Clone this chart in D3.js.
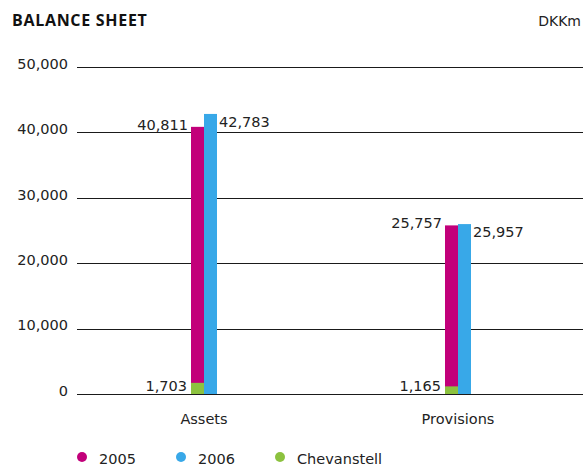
<!DOCTYPE html>
<html>
<head>
<meta charset="utf-8">
<script src="https://cdn.jsdelivr.net/npm/d3@7"></script>
<style>
  html, body { margin: 0; padding: 0; background: #fff; }
  svg { display: block; font-family: "DejaVu Sans", sans-serif; }
</style>
</head>
<body>
<svg id="chart" width="583" height="465"></svg>
<script>
// Balance sheet, DKKm
const categories = ["Assets", "Provisions"];
const values2005 = [40811, 25757];
const values2006 = [42783, 25957];
const valuesChevanstell = [1703, 1165];
const yTicks = [0, 10000, 20000, 30000, 40000, 50000];
const legendLabels = ["2005", "2006", "Chevanstell"];

const colors = { y2005: "#c2007a", y2006: "#38a8e8", chev: "#8cc23f" };
const textColor = "#222";

const svg = d3.select("#chart");
const W = 583;
const plotLeft = 77, plotRight = 585;

const y = d3.scaleLinear().domain([0, 50000]).range([394, 66.7]);
const x = d3.scalePoint().domain(categories).range([plotLeft, plotRight]).padding(0.5);
const barW = 13;
const fmt = d3.format(",");

// Title and unit
svg.append("text").attr("x", 12).attr("y", 26)
  .attr("font-family", "'Open Sans', sans-serif")
  .attr("font-size", 16).attr("font-weight", "bold").attr("letter-spacing", 0.7)
  .attr("fill", "#111")
  .text("BALANCE SHEET");
svg.append("text").attr("x", 581).attr("y", 26).attr("text-anchor", "end")
  .attr("font-size", 14).attr("fill", textColor).text("DKKm");

// Gridlines with tick labels
const yAxis = d3.axisLeft(y).tickValues(yTicks).tickFormat(fmt)
  .tickSize(-(W - plotLeft)).tickPadding(9);
const gAxis = svg.append("g").attr("transform", `translate(${plotLeft},0)`).call(yAxis);
gAxis.select(".domain").remove();
gAxis.selectAll(".tick line").attr("stroke", "#1a1a1a").attr("stroke-width", 1)
  .attr("shape-rendering", "crispEdges");
gAxis.selectAll(".tick text").attr("font-size", 14.5).attr("fill", textColor)
  .attr("font-family", "DejaVu Sans, sans-serif").attr("dy", "0.1em");

// Bars
const rows = categories.map((c, i) => ({
  cat: c, v2005: values2005[i], v2006: values2006[i], chev: valuesChevanstell[i]
}));

const g = svg.append("g");
g.selectAll("rect.b2005").data(rows).join("rect")
  .attr("x", d => x(d.cat) - barW).attr("width", barW)
  .attr("y", d => y(d.v2005)).attr("height", d => y(0) - y(d.v2005))
  .attr("fill", colors.y2005);
g.selectAll("rect.b2006").data(rows).join("rect")
  .attr("x", d => x(d.cat)).attr("width", barW)
  .attr("y", d => y(d.v2006)).attr("height", d => y(0) - y(d.v2006))
  .attr("fill", colors.y2006);
g.selectAll("rect.chev").data(rows).join("rect")
  .attr("x", d => x(d.cat) - barW).attr("width", barW)
  .attr("y", d => y(d.chev)).attr("height", d => y(0) - y(d.chev))
  .attr("fill", colors.chev);

// Zero line drawn over bar bottoms
svg.append("line").attr("x1", plotLeft).attr("x2", W).attr("y1", y(0)).attr("y2", y(0))
  .attr("stroke", "#1a1a1a").attr("shape-rendering", "crispEdges");

// Value labels
const lbl = svg.append("g").attr("font-size", 14.5).attr("fill", textColor);
lbl.selectAll("text.l2005").data(rows).join("text")
  .attr("x", d => x(d.cat) - barW - 3).attr("y", d => y(d.v2005) + 3)
  .attr("text-anchor", "end").text(d => fmt(d.v2005));
lbl.selectAll("text.l2006").data(rows).join("text")
  .attr("x", d => x(d.cat) + barW + 2).attr("y", d => y(d.v2006) + 13)
  .attr("text-anchor", "start").text(d => fmt(d.v2006));
lbl.selectAll("text.lchev").data(rows).join("text")
  .attr("x", d => x(d.cat) - barW - 4).attr("y", y(0) - 3)
  .attr("text-anchor", "end").text(d => fmt(d.chev));

// Category labels
svg.append("g").selectAll("text").data(categories).join("text")
  .attr("x", d => x(d)).attr("y", 424).attr("text-anchor", "middle")
  .attr("font-size", 14.5).attr("fill", textColor).text(d => d);

// Legend
const legendX = [82, 181, 280];
const legendColors = [colors.y2005, colors.y2006, colors.chev];
const lg = svg.append("g").selectAll("g").data(legendLabels).join("g")
  .attr("transform", (d, i) => `translate(${legendX[i]},457)`);
lg.append("circle").attr("r", 5).attr("fill", (d, i) => legendColors[i]);
lg.append("text").attr("x", 17).attr("y", 6.5).attr("font-size", 14.5)
  .attr("fill", textColor).text(d => d);
</script>
</body>
</html>
